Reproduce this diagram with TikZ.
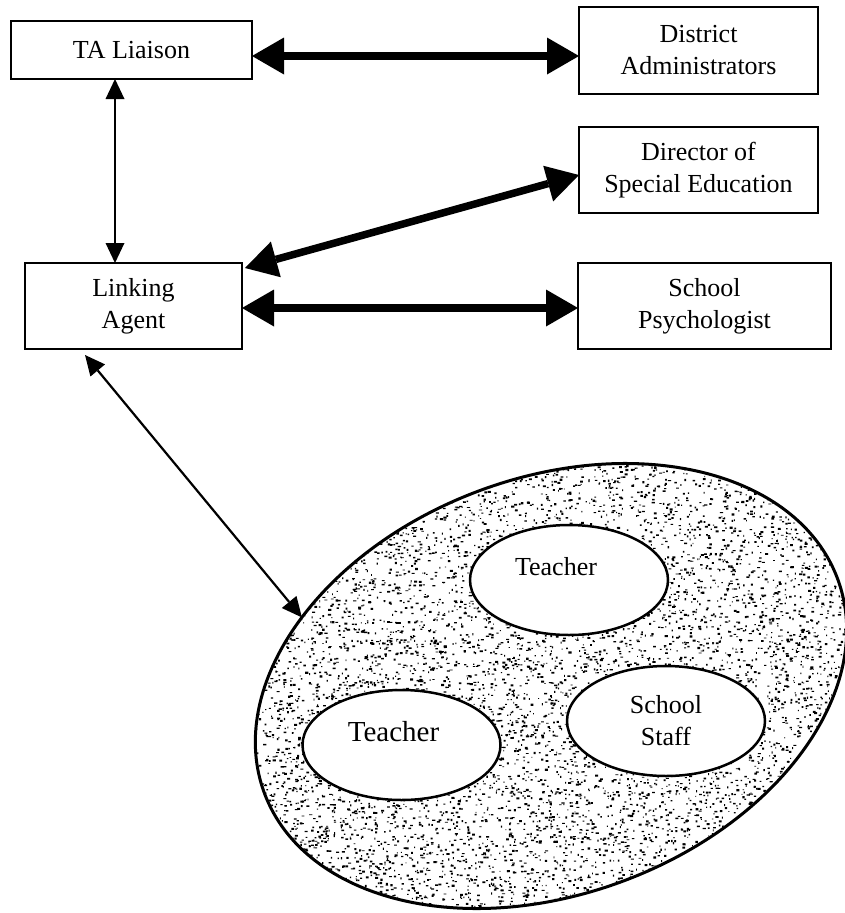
\documentclass[tikz,border=0pt]{standalone}
\usepackage{fontspec}
\setmainfont{Liberation Serif}
\usetikzlibrary{arrows.meta,shapes.geometric,calc}

\begin{document}
\begin{tikzpicture}[x=1pt,y=-1pt,
  box/.style={draw, line width=2pt, rectangle, inner sep=0pt, outer sep=0pt,
    align=center, font=\fontsize{26}{32}\selectfont},
  oval/.style={draw, line width=2.5pt, ellipse, fill=white, minimum width=198pt,
    minimum height=110pt, inner sep=0pt, outer sep=0pt, align=center,
    font=\fontsize{26}{32}\selectfont},
  lbl/.style={inner sep=0pt, align=center, font=\fontsize{26}{32}\selectfont},
  bigarrow/.style={line width=7.5pt,
    {Triangle[length=32pt,width=37pt,line width=0pt]}-{Triangle[length=32pt,width=37pt,line width=0pt]}},
  thinarrow/.style={line width=2.2pt,
    {Triangle[length=20pt,width=19pt,line width=0pt]}-{Triangle[length=20pt,width=19pt,line width=0pt]}},
]
\useasboundingbox (0,0) rectangle (845,913);

% Boxes
\node[box, minimum width=241pt, minimum height=58pt] (ta) at (131.5,50) {TA Liaison};
\node[box, minimum width=239pt, minimum height=87pt] (dist) at (698.5,50.5) {District\\Administrators};
\node[box, minimum width=239pt, minimum height=86pt] (dir) at (698.5,170) {Director of\\Special Education};
\node[box, minimum width=217pt, minimum height=86pt] (link) at (133.5,306) {Linking\\Agent};
\node[box, minimum width=253pt, minimum height=86pt] (psych) at (704.5,306) {School\\Psychologist};

% School group: stippled ellipse
\node[ellipse, draw, line width=3pt, minimum width=612pt, minimum height=416pt,
  inner sep=0pt, outer sep=0pt, rotate=20.6] (grp) at (551,686) {};
\begin{scope}
  \pgfmathsetseed{4242}
  \clip[rotate around={20.6:(grp.center)}] (grp.center) ellipse [x radius=304.5, y radius=206.5];
  \foreach \k in {1,...,45} {
    \fill foreach \i in {1,...,200} { ({245+605*rnd},{450+463*rnd}) rectangle ++({0.8+2.4*rnd},{0.8+1.4*rnd}) };
  }
\end{scope}

% Members inside the group
\node[oval] (t1) at (569,580) {};
\node[lbl] at ([xshift=-13pt,yshift=13pt]t1.center) {Teacher};
\node[oval] (t2) at (401.5,745) {};
\node[lbl, font=\fontsize{29}{35}\selectfont] at ([xshift=-8pt,yshift=13pt]t2.center) {Teacher};
\node[oval] (staff) at (666,721) {School\\Staff};

% Connectors
\draw[bigarrow] ([yshift=-6pt]ta.east) -- ([yshift=-6pt]ta.east -| dist.west);
\draw[bigarrow] ([xshift=3pt,yshift=-5pt]link.north east) -- ([yshift=-5pt]dir.west);
\draw[bigarrow] ([yshift=-2pt]link.east) -- ([yshift=-2pt]link.east -| psych.west);
\draw[thinarrow] ([xshift=-16.5pt]ta.south) -- ([xshift=-16.5pt]ta.south |- link.north);
\draw[thinarrow] ([xshift=-48.5pt,yshift=-6pt]link.south) -- (grp.144.5);
\end{tikzpicture}
\end{document}
